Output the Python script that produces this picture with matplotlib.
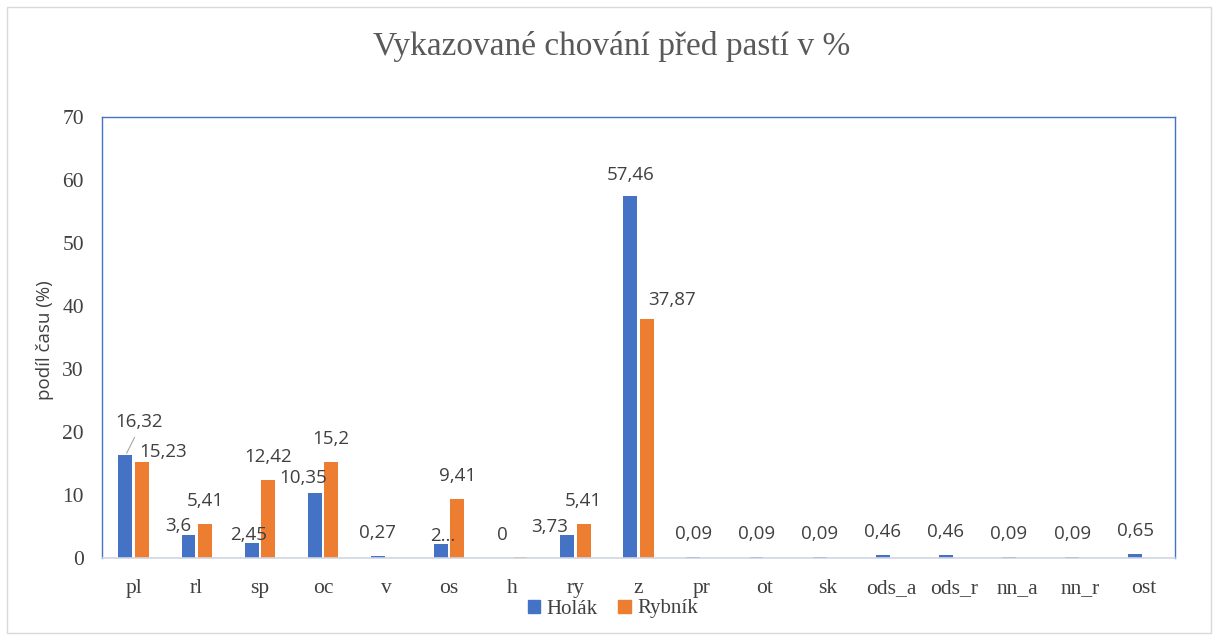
import matplotlib
matplotlib.use("Agg")
import matplotlib.pyplot as plt
from matplotlib.patches import Rectangle
import numpy as np

categories = ["pl", "rl", "sp", "oc", "v", "os", "h", "ry", "z", "pr", "ot", "sk",
              "ods_a", "ods_r", "nn_a", "nn_r", "ost"]
holak = [16.32, 3.6, 2.45, 10.35, 0.27, 2.3, 0, 3.73, 57.46, 0.09, 0.09, 0.09,
         0.46, 0.46, 0.09, 0.09, 0.65]
rybnik = [15.23, 5.41, 12.42, 15.2, 0, 9.41, 0.1, 5.41, 37.87, 0, 0, 0,
          0, 0, 0, 0, 0]
series_names = ["Holák", "Rybník"]
title = "Vykazované chování před pastí v %"
ylabel = "podíl času (%)"
yticks = [0, 10, 20, 30, 40, 50, 60, 70]


def fmt(v):
    return f"{v:g}".replace(".", ",")


holak_labels = [fmt(v) for v in holak]
holak_labels[5] = "2..."
rybnik_labels = [fmt(v) if v >= 0.5 else None for v in rybnik]

# label placement tweaks (pixel offsets of label centre from bar top)
holak_off = {0: (14, -33), 1: (-10, -9), 2: (-3, -8), 3: (-12, -15),
             5: (2, -8), 6: (-2, -23), 7: (-18, -8), 8: (0, -21)}
rybnik_off = {0: (21, -10), 8: (25, -19)}
default_off = (0, -23)

BLUE = "#4472C4"
ORANGE = "#ED7D31"
TXT = "#404040"

fig = plt.figure(figsize=(12.18, 6.40), dpi=100)
fig.patches.append(Rectangle((0.006, 0.011), 0.988, 0.978, transform=fig.transFigure,
                             fill=False, edgecolor="#D9D9D9", linewidth=1.0))

ax = fig.add_axes([102 / 1218, 82 / 640, (1175 - 102) / 1218, (558 - 117) / 640])
x = np.arange(len(categories))
w = 0.22
off = 0.13
ax.bar(x - off, holak, width=w, color=BLUE, label=series_names[0], zorder=2)
ax.bar(x + off, rybnik, width=w, color=ORANGE, label=series_names[1], zorder=2)

ax.set_xlim(-0.5, len(categories) - 0.5)
ax.set_ylim(0, 70)
ax.set_yticks(yticks)
ax.set_xticks(x)
ax.set_xticklabels(categories)
ax.tick_params(axis="both", length=0, labelcolor=TXT, labelsize=15.5)
ax.tick_params(axis="y", pad=13)
ax.tick_params(axis="x", pad=15)
for lab in ax.get_xticklabels() + ax.get_yticklabels():
    lab.set_fontfamily("Liberation Serif")

for s in ["left", "top", "right"]:
    ax.spines[s].set_color(BLUE)
    ax.spines[s].set_linewidth(1.0)
ax.spines["bottom"].set_color("#CFD5E2")
ax.spines["bottom"].set_linewidth(1.2)

lab_kw = dict(textcoords="offset pixels", ha="center", va="center",
              fontsize=13.5, color=TXT, family="Open Sans")
for i, (v, t) in enumerate(zip(holak, holak_labels)):
    dx, dy = holak_off.get(i, default_off)
    ax.annotate(t, xy=(x[i] - off, v), xytext=(dx, -dy), **lab_kw)
    if i == 0:
        ax.annotate("", xy=(x[i] - off + 0.02, v + 0.3), xytext=(8, 16),
                    textcoords="offset pixels",
                    arrowprops=dict(arrowstyle="-", color="#A6A6A6", lw=0.8,
                                    shrinkA=0, shrinkB=0))
for i, (v, t) in enumerate(zip(rybnik, rybnik_labels)):
    if t is None:
        continue
    dx, dy = rybnik_off.get(i, default_off)
    ax.annotate(t, xy=(x[i] + off, v), xytext=(dx, -dy), **lab_kw)

fig.text(45 / 1218, 1 - 340 / 640, ylabel, rotation=90, ha="center", va="center",
         fontsize=13.5, color=TXT, family="Open Sans")
fig.text(0.502, 1 - 46 / 640, title, ha="center", va="center",
         fontsize=24, color="#595959", family="Liberation Serif")

handles = [Rectangle((0, 0), 1, 1, color=BLUE), Rectangle((0, 0), 1, 1, color=ORANGE)]
leg = fig.legend(handles, series_names, loc="center", bbox_to_anchor=(0.503, 1 - 609 / 640),
                 ncol=2, frameon=False, handlelength=0.6, handleheight=0.6,
                 handletextpad=0.3, columnspacing=1.0,
                 prop={"family": "Liberation Serif", "size": 15})
for t in leg.get_texts():
    t.set_color(TXT)

fig.savefig("out.png", dpi=100)
